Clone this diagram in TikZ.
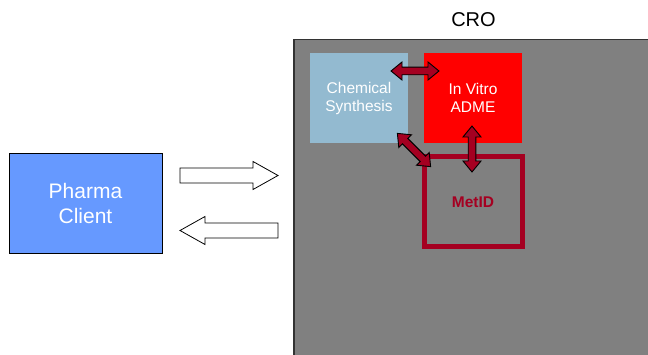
\documentclass[tikz,border=0pt]{standalone}
\usepackage{fontspec}
\setmainfont{Liberation Sans}
\definecolor{crogray}{HTML}{808080}
\definecolor{chemblue}{HTML}{93BAD0}
\definecolor{pharmablue}{HTML}{6699FF}
\definecolor{metred}{HTML}{A50021}
\tikzset{
  box/.style={inner sep=0pt, align=center, text=white},
  blockarrow/.style={draw=black, fill=white, line width=0.8pt, line join=miter},
  dblarrow/.style={draw=black, fill=metred, line width=0.9pt, line join=miter},
  pics/dbl/.style={code={
    \pgfmathsetmacro{\hl}{#1/2}
    \pgfmathsetmacro{\hs}{#1/2-11}
    \path[dblarrow] (-\hl,0) -- (-\hs,9) -- (-\hs,3.8) -- (\hs,3.8) -- (\hs,9) -- (\hl,0)
      -- (\hs,-9) -- (\hs,-3.8) -- (-\hs,-3.8) -- (-\hs,-9) -- cycle;
  }}
}
\begin{document}
\begin{tikzpicture}[x=1pt,y=-1pt]
\clip (0,0) rectangle (648,355);
\fill[white] (0,0) rectangle (648,355);
% CRO area
\draw[fill=crogray, draw=black!80, line width=1.2pt] (294,39.5) rectangle (680,400);
\node[font=\fontsize{20}{24}\selectfont] (cro) at (473.5,20) {CRO};
% boxes
\node[box, fill=chemblue, minimum width=98, minimum height=90,
      font=\fontsize{15.5}{18}\selectfont] (chem) at (359,98) {Chemical\\Synthesis};
\node[box, fill=red, minimum width=98, minimum height=90,
      font=\fontsize{15.5}{18}\selectfont] (adme) at (473,98) {In Vitro\\ADME};
\node[box, draw=metred, line width=5pt, minimum width=98, minimum height=90,
      text=metred, font=\bfseries\fontsize{15.5}{18}\selectfont] (metid) at (473,202) {MetID};
\node[box, fill=pharmablue, draw=black, line width=0.8pt, minimum width=153, minimum height=100,
      font=\fontsize{21}{25}\selectfont] (pharma) at (85.5,203) {Pharma\\Client};
% block arrows
\path[blockarrow] (180,168) -- (253,168) -- (253,161.5) -- (278,175.5) -- (253,189.5)
  -- (253,183) -- (180,183) -- cycle;
\path[blockarrow] (278,223) -- (205,223) -- (205,216.5) -- (180,230.5) -- (205,244.5)
  -- (205,238) -- (278,238) -- cycle;
% double arrows
\pic at (415,71) {dbl=48};
\pic[rotate=90] at (472,149) {dbl=46};
\pic[rotate=-45] at (414,150) {dbl=47};
\end{tikzpicture}
\end{document}
